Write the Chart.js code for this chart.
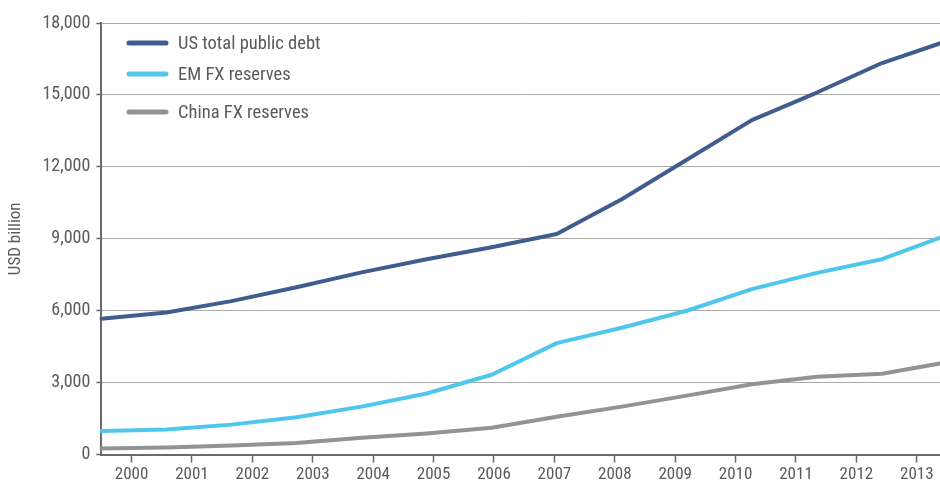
<!DOCTYPE html>
<html>
<head>
<meta charset="utf-8">
<script src="https://cdn.jsdelivr.net/npm/chart.js@4.4.1/dist/chart.umd.min.js"></script>
<style>
    html, body { margin: 0; padding: 0; background: #fff; overflow: hidden; }
    #wrap { width: 948px; height: 488px; }
</style>
</head>
<body>
<div id="wrap"><canvas id="graph" width="948" height="488"></canvas></div>
<script>
const years = ['2000', '2001', '2002', '2003', '2004', '2005', '2006',
               '2007', '2008', '2009', '2010', '2011', '2012', '2013'];

const usDebt = [5670, 5930, 6400, 6980, 7600, 8150, 8650, 9200, 10650, 12300, 13950, 15100, 16330, 17250];
const emReserves = [980, 1050, 1250, 1560, 2000, 2550, 3330, 4650, 5290, 6000, 6900, 7580, 8150, 9150];
const chinaReserves = [250, 300, 380, 480, 700, 880, 1120, 1580, 2000, 2460, 2930, 3250, 3370, 3850];

const seriesNames = ['US total public debt', 'EM FX reserves', 'China FX reserves'];
const seriesColors = ['#405d8e', '#4fc7ec', '#939397'];

const FONT = "'Roboto Condensed', Roboto, sans-serif";
const TEXT = '#5a5a5a';

// legend drawn inside the plot, top left
const insideLegend = {
    id: 'insideLegend',
    afterDraw(chart) {
        const ctx = chart.ctx;
        const rows = [43, 74, 112];
        ctx.save();
        ctx.font = '18.5px ' + FONT;
        ctx.textBaseline = 'middle';
        seriesNames.forEach((name, i) => {
            ctx.strokeStyle = seriesColors[i];
            ctx.lineWidth = 5;
            ctx.lineCap = 'round';
            ctx.beginPath();
            ctx.moveTo(129, rows[i]);
            ctx.lineTo(166, rows[i]);
            ctx.stroke();
            ctx.fillStyle = TEXT;
            ctx.fillText(name, 178, rows[i] + 1);
        });
        ctx.restore();
    }
};

function makeSet(label, data, color) {
    return {
        label,
        data,
        borderColor: color,
        backgroundColor: color,
        borderWidth: 4,
        pointRadius: 0,
        tension: 0,
        borderCapStyle: 'round',
        borderJoinStyle: 'round',
        fill: false,
        xAxisID: 'xData'
    };
}

new Chart(document.getElementById('graph'), {
    type: 'line',
    data: {
        labels: years,
        datasets: [
            makeSet(seriesNames[0], usDebt, seriesColors[0]),
            makeSet(seriesNames[1], emReserves, seriesColors[1]),
            makeSet(seriesNames[2], chinaReserves, seriesColors[2])
        ]
    },
    options: {
        responsive: false,
        animation: false,
        layout: { padding: { top: 23, right: 1, left: 6, bottom: 1 } },
        plugins: {
            legend: { display: false },
            tooltip: { enabled: false }
        },
        scales: {
            x: {
                type: 'category',
                offset: true,
                grid: {
                    display: true,
                    drawOnChartArea: false,
                    tickLength: 8,
                    tickColor: '#6a6a6a',
                    tickWidth: 1.5
                },
                border: { color: '#6a6a6a', width: 2 },
                ticks: {
                    color: TEXT,
                    font: { family: FONT, size: 17 },
                    padding: 2,
                    maxRotation: 0,
                    autoSkip: false
                }
            },
            xData: {
                type: 'category',
                offset: false,
                display: false
            },
            y: {
                min: 0,
                max: 18000,
                ticks: {
                    stepSize: 3000,
                    color: TEXT,
                    font: { family: FONT, size: 18 },
                    padding: 6
                },
                grid: {
                    color: '#a8a8a8',
                    lineWidth: 1,
                    tickLength: 5,
                    tickColor: '#6a6a6a',
                    tickWidth: 1.5
                },
                border: { color: '#6a6a6a', width: 2 },
                title: {
                    display: true,
                    text: 'USD billion',
                    color: TEXT,
                    font: { family: FONT, size: 17 },
                    padding: { top: 0, bottom: 10 }
                }
            }
        }
    },
    plugins: [insideLegend]
});
</script>
</body>
</html>
